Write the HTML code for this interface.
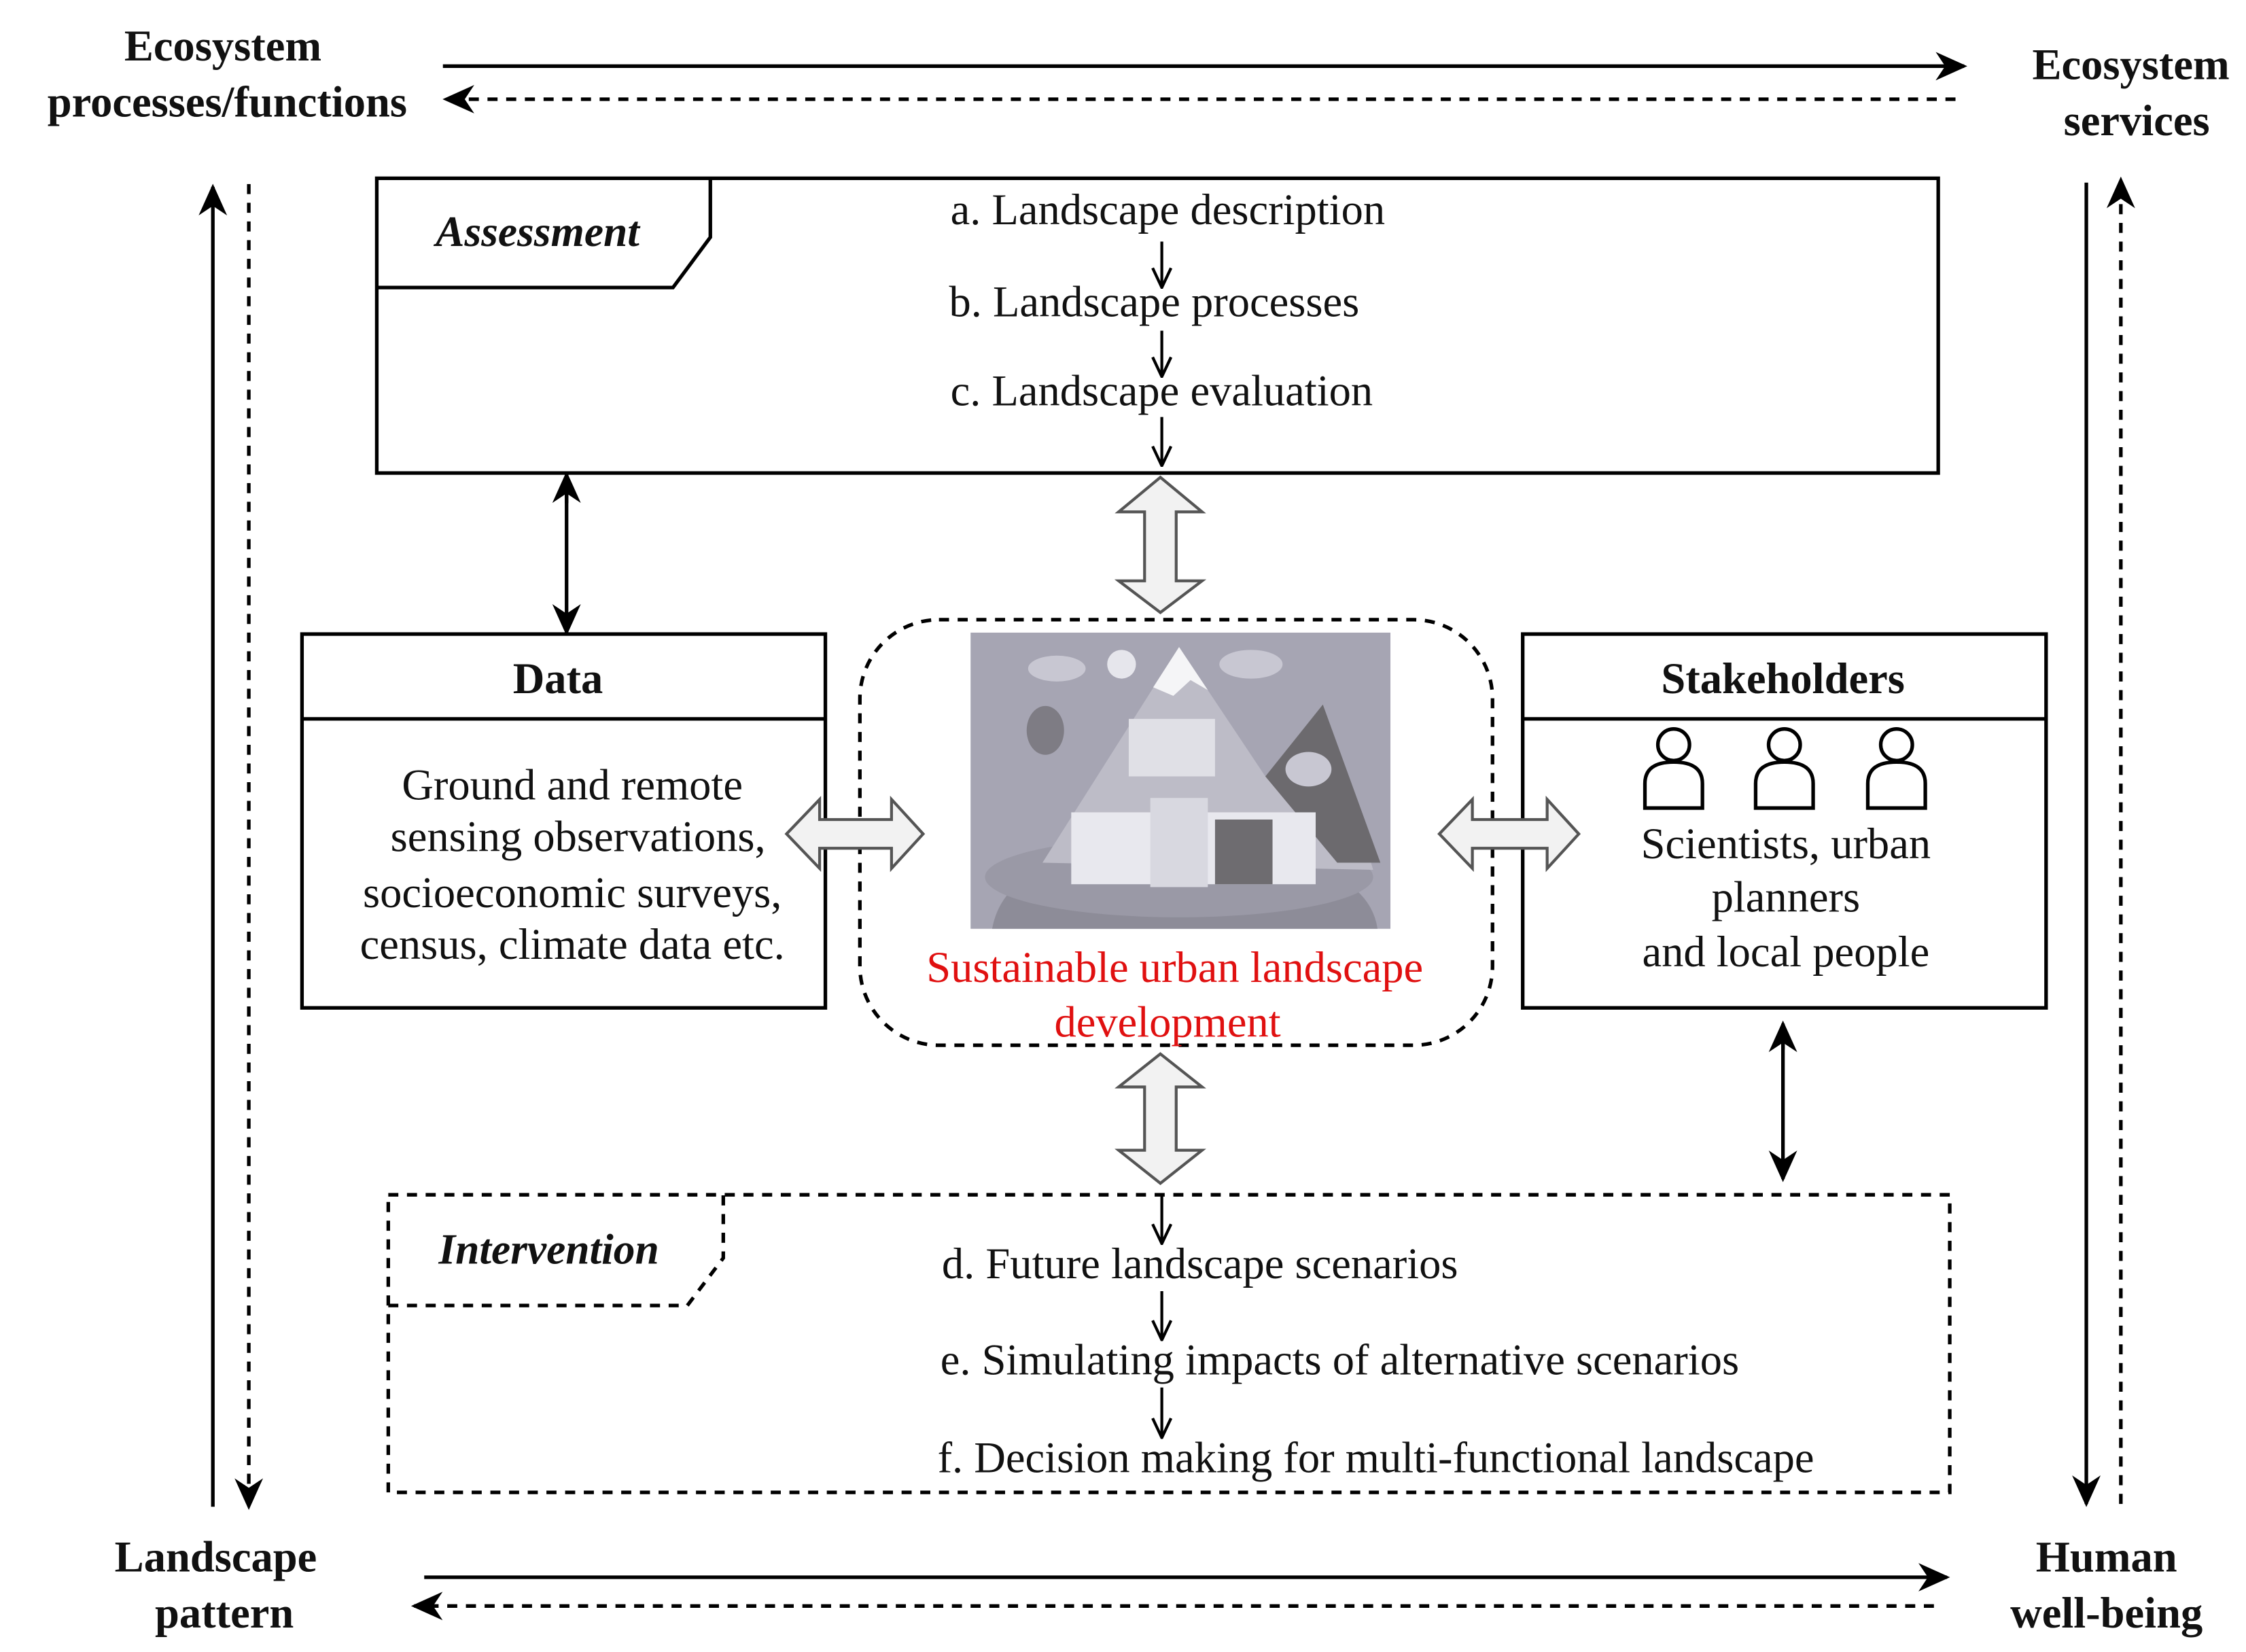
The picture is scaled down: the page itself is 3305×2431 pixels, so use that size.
<!DOCTYPE html>
<html><head><meta charset="utf-8"><style>
html,body{margin:0;padding:0;background:#fff}
svg{display:block}
text{font-family:"Liberation Serif",serif;fill:#111}
</style></head><body>
<svg width="3305" height="2431" viewBox="0 0 1562 1149" xmlns="http://www.w3.org/2000/svg">
<defs>
<marker id="big" viewBox="0 0 20 20" markerWidth="22" markerHeight="22" refX="18" refY="10" orient="auto" markerUnits="userSpaceOnUse">
<path d="M0,1 L20,10 L0,19 L6,10 Z" fill="#000"/>
</marker>
<marker id="sm" viewBox="0 0 20 20" markerWidth="16" markerHeight="16" refX="19" refY="10" orient="auto" markerUnits="userSpaceOnUse">
<path d="M2,2 L19,10 L2,18" fill="none" stroke="#000" stroke-width="2.5"/>
</marker>
</defs>
<g stroke="#000" stroke-width="2.5" fill="none">
<line x1="308" y1="46" x2="1366" y2="46" marker-end="url(#big)"/>
<line x1="1360" y1="69" x2="310" y2="69" stroke-dasharray="7,6" marker-end="url(#big)"/>
<line x1="295" y1="1097" x2="1354" y2="1097" marker-end="url(#big)"/>
<line x1="1345" y1="1117" x2="288" y2="1117" stroke-dasharray="7,6" marker-end="url(#big)"/>
<line x1="148" y1="1048" x2="148" y2="130" marker-end="url(#big)"/>
<line x1="173" y1="128" x2="173" y2="1048" stroke-dasharray="7,6" marker-end="url(#big)"/>
<line x1="1451" y1="127" x2="1451" y2="1046" marker-end="url(#big)"/>
<line x1="1475" y1="1046" x2="1475" y2="125" stroke-dasharray="7,6" marker-end="url(#big)"/>
<rect x="262" y="124" width="1086" height="205"/>
<path d="M262,200 L468,200 L494,165 L494,124"/>
<rect x="270" y="831" width="1086" height="207" stroke-dasharray="7,6"/>
<path d="M270,908 L478,908 L503,875 L503,831" stroke-dasharray="7,6"/>
<rect x="210" y="441" width="364" height="260"/>
<line x1="210" y1="500" x2="574" y2="500"/>
<rect x="1059" y="441" width="364" height="260"/>
<line x1="1059" y1="500" x2="1423" y2="500"/>
<rect x="598" y="431" width="440" height="296" rx="55" stroke-dasharray="7,6"/>
<line x1="394" y1="350" x2="394" y2="330" marker-end="url(#big)"/>
<line x1="394" y1="340" x2="394" y2="440" marker-end="url(#big)"/>
<line x1="1240" y1="730" x2="1240" y2="712" marker-end="url(#big)"/>
<line x1="1240" y1="720" x2="1240" y2="820" marker-end="url(#big)"/>
<g stroke-width="2">
<line x1="808" y1="168" x2="808" y2="200" marker-end="url(#sm)"/>
<line x1="808" y1="230" x2="808" y2="262" marker-end="url(#sm)"/>
<line x1="808" y1="290" x2="808" y2="324" marker-end="url(#sm)"/>
<line x1="808" y1="832" x2="808" y2="865" marker-end="url(#sm)"/>
<line x1="808" y1="898" x2="808" y2="932" marker-end="url(#sm)"/>
<line x1="808" y1="965" x2="808" y2="1000" marker-end="url(#sm)"/>
</g>
</g>
<g fill="#f2f2f2" stroke="#555" stroke-width="2">
<path d="M807,332 L836,356 L818,356 L818,404 L836,404 L807,426 L778,404 L796,404 L796,356 L778,356 Z"/>
<path d="M807,733 L836,756 L818,756 L818,800 L836,800 L807,823 L778,800 L796,800 L796,756 L778,756 Z"/>
<path d="M547,580 L570,556 L570,570 L620,570 L620,556 L642,580 L620,604 L620,590 L570,590 L570,604 Z"/>
<path d="M1001,580 L1024,556 L1024,570 L1076,570 L1076,556 L1098,580 L1076,604 L1076,590 L1024,590 L1024,604 Z"/>
</g>
<g>
<rect x="675" y="440" width="292" height="206" fill="#a6a5b3"/>
<path d="M690,646 Q700,590 810,590 Q950,590 958,646 Z" fill="#8d8c98"/>
<ellipse cx="820" cy="610" rx="135" ry="28" fill="#9a99a6"/>
<path d="M725,600 L820,450 L880,540 L920,490 L955,605 Z" fill="#bdbcc7"/>
<path d="M880,540 L920,490 L960,600 L930,600 Z" fill="#6c6a6e"/>
<path d="M802,478 L820,450 L840,480 L828,473 L816,484 Z" fill="#f5f5f7"/>
<rect x="745" y="565" width="170" height="50" fill="#e8e8ee"/>
<rect x="800" y="555" width="40" height="62" fill="#d8d8e0"/>
<rect x="845" y="570" width="40" height="45" fill="#6e6c70"/>
<rect x="785" y="500" width="60" height="40" fill="#e0e0e6"/>
<ellipse cx="727" cy="508" rx="13" ry="17" fill="#7e7c84"/>
<circle cx="780" cy="462" r="10" fill="#e6e6ec"/>
<ellipse cx="735" cy="465" rx="20" ry="9" fill="#c8c7d2"/>
<ellipse cx="870" cy="462" rx="22" ry="10" fill="#c8c7d2"/>
<ellipse cx="910" cy="535" rx="16" ry="12" fill="#c8c7d2"/>
</g>
<g font-weight="bold" font-size="30.5" text-anchor="middle">
<text x="155" y="42">Ecosystem</text>
<text x="158" y="81">processes/functions</text>
<text x="1482" y="55">Ecosystem</text>
<text x="1486" y="94">services</text>
<text x="150" y="1093">Landscape</text>
<text x="156" y="1132">pattern</text>
<text x="1465" y="1093">Human</text>
<text x="1465" y="1132">well-being</text>
<text x="388" y="482">Data</text>
<text x="1240" y="482">Stakeholders</text>
</g>
<g font-weight="bold" font-style="italic" font-size="30">
<text x="303" y="171">Assessment</text>
<text x="305" y="879">Intervention</text>
</g>
<g font-size="30.5">
<text x="661" y="156">a. Landscape description</text>
<text x="660" y="220">b. Landscape processes</text>
<text x="661" y="282">c. Landscape evaluation</text>
<text x="655" y="889">d. Future landscape scenarios</text>
<text x="654" y="956">e. Simulating impacts of alternative scenarios</text>
<text x="652" y="1024">f. Decision making for multi-functional landscape</text>
</g>
<g font-size="30.5" text-anchor="middle">
<text x="398" y="556">Ground and remote</text>
<text x="402" y="592">sensing observations,</text>
<text x="398" y="631">socioeconomic surveys,</text>
<text x="398" y="667">census, climate data etc.</text>
<text x="1242" y="597">Scientists, urban</text>
<text x="1242" y="634">planners</text>
<text x="1242" y="672">and local people</text>
<text x="817" y="683" style="fill:#e01010">Sustainable urban landscape</text>
<text x="812" y="721" style="fill:#e01010">development</text>
</g>
<g fill="none" stroke="#000" stroke-width="2.5">
<g transform="translate(1164,0)"><circle cx="0" cy="518" r="11"/><path d="M-20,562 L-20,545 Q-20,530 0,530 Q20,530 20,545 L20,562 Z"/></g>
<g transform="translate(1241,0)"><circle cx="0" cy="518" r="11"/><path d="M-20,562 L-20,545 Q-20,530 0,530 Q20,530 20,545 L20,562 Z"/></g>
<g transform="translate(1319,0)"><circle cx="0" cy="518" r="11"/><path d="M-20,562 L-20,545 Q-20,530 0,530 Q20,530 20,545 L20,562 Z"/></g>
</g>
</svg>
</body></html>
